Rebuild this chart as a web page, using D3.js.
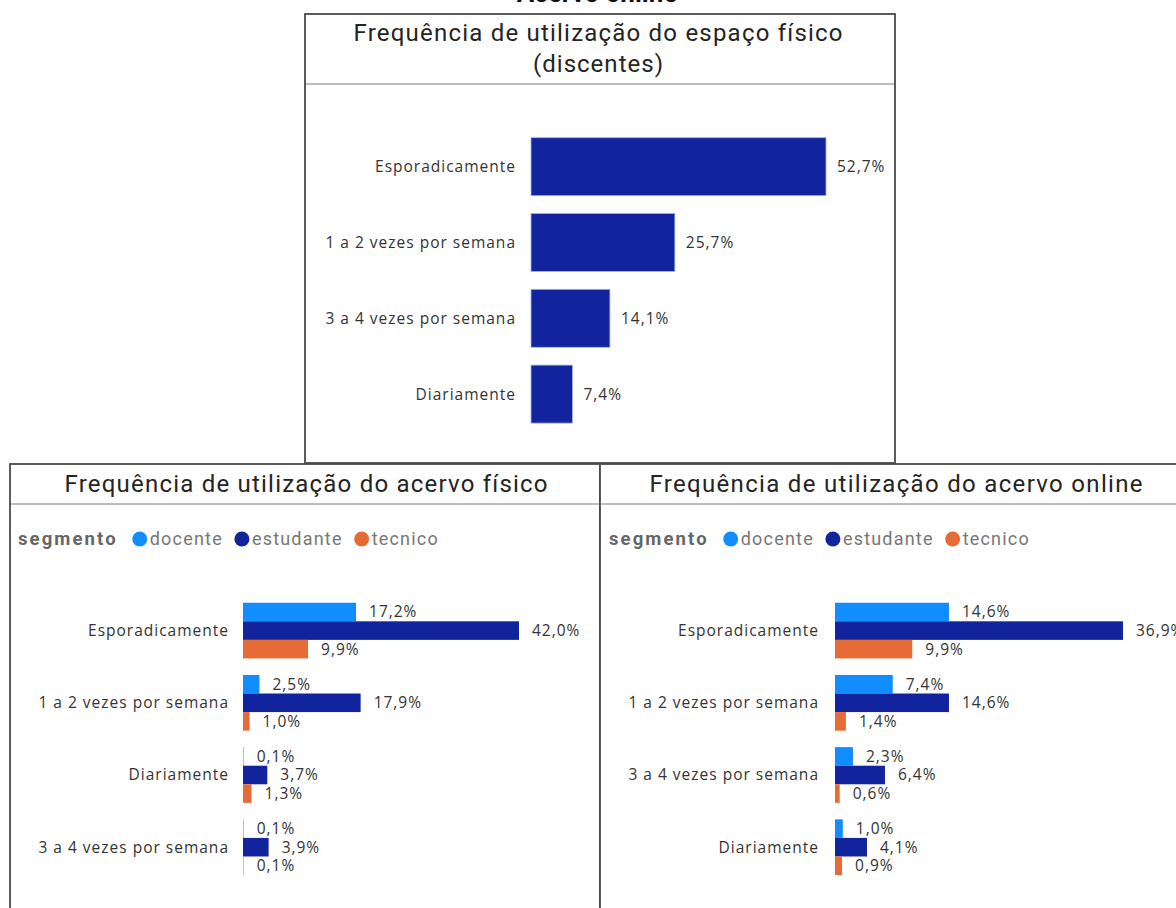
<!DOCTYPE html>
<html>
<head>
<meta charset="utf-8">
<script src="https://cdn.jsdelivr.net/npm/d3@7"></script>
<style>
  html, body { margin: 0; padding: 0; background: #fff; overflow: hidden; }
  svg { display: block; }
</style>
</head>
<body>
<svg id="chart" width="1176" height="908"></svg>
<script>
// ---------------- DATA ----------------
const pageTitle = "Acervo online";

const topTitle = ["Frequência de utilização do espaço físico", "(discentes)"];
const topCategories = ["Esporadicamente", "1 a 2 vezes por semana", "3 a 4 vezes por semana", "Diariamente"];
const topValues = [52.7, 25.7, 14.1, 7.4];

const segments = ["docente", "estudante", "tecnico"];
const segmentColors = ["#118DFF", "#12239E", "#E66C37"];

const fisicoTitle = "Frequência de utilização do acervo físico";
const fisicoCategories = ["Esporadicamente", "1 a 2 vezes por semana", "Diariamente", "3 a 4 vezes por semana"];
const fisicoDocente = [17.2, 2.5, 0.1, 0.1];
const fisicoEstudante = [42.0, 17.9, 3.7, 3.9];
const fisicoTecnico = [9.9, 1.0, 1.3, 0.1];

const onlineTitle = "Frequência de utilização do acervo online";
const onlineCategories = ["Esporadicamente", "1 a 2 vezes por semana", "3 a 4 vezes por semana", "Diariamente"];
const onlineDocente = [14.6, 7.4, 2.3, 1.0];
const onlineEstudante = [36.9, 14.6, 6.4, 4.1];
const onlineTecnico = [9.9, 1.4, 0.6, 0.9];

// ---------------- HELPERS ----------------
const svg = d3.select("#chart");
const fmt = v => d3.format(".1f")(v).replace(".", ",") + "%";
const LABEL_FONT = "'Open Sans', 'Noto Sans', sans-serif";
const TITLE_FONT = "'Roboto', 'DejaVu Sans', sans-serif";
const LABEL_SIZE = 15.5;
const LABEL_SPACING = 1;

function panel(x0, y0, x1, y1, sepY) {
  const g = svg.append("g");
  g.append("rect").attr("x", x0).attr("y", y0).attr("width", x1 - x0).attr("height", y1 - y0)
    .attr("fill", "#fff").attr("stroke", "#4a4a4a").attr("stroke-width", 1.8);
  g.append("line").attr("x1", x0 + 1).attr("x2", x1 - 1).attr("y1", sepY).attr("y2", sepY)
    .attr("stroke", "#bdbdbd").attr("stroke-width", 2);
  return g;
}

function title(g, lines, cx, firstBaseline, lineH, widths) {
  lines.forEach((t, i) => {
    g.append("text").attr("x", cx).attr("y", firstBaseline + i * lineH)
      .attr("text-anchor", "middle").attr("font-family", TITLE_FONT)
      .attr("font-size", 24).attr("fill", "#252423")
      .attr("textLength", widths[i]).attr("lengthAdjust", "spacing").text(t);
  });
}

function styleLabel(sel) {
  return sel.attr("font-family", LABEL_FONT).attr("font-size", LABEL_SIZE)
    .attr("letter-spacing", LABEL_SPACING).attr("fill", "#333");
}

function catAxis(g, y, xPos) {
  const ax = g.append("g").attr("transform", `translate(${xPos},0)`)
    .call(d3.axisLeft(y).tickSize(0).tickPadding(0));
  ax.select(".domain").remove();
  styleLabel(ax.selectAll("text")).attr("dy", "0.35em");
}

function legend(g, x, y) {
  const lg = g.append("g").attr("transform", `translate(${x},${y})`);
  const t = lg.append("text").attr("x", 0).attr("y", 0).attr("dy", "0.35em")
    .attr("font-family", TITLE_FONT).attr("font-weight", "bold").attr("font-size", 18.5)
    .attr("letter-spacing", 2.1).attr("fill", "#666").text("segmento");
  let cx = t.node().getComputedTextLength() + 22;
  segments.forEach((s, i) => {
    lg.append("circle").attr("cx", cx).attr("cy", 0).attr("r", 7.5).attr("fill", segmentColors[i]);
    const tt = lg.append("text").attr("x", cx + 10).attr("y", 0).attr("dy", "0.35em")
      .attr("font-family", TITLE_FONT).attr("font-size", 18).attr("letter-spacing", 1.2)
      .attr("fill", "#777").text(s);
    cx += 10 + tt.node().getComputedTextLength() + 19;
  });
}

// ---------------- PAGE TITLE (cut off at the top edge, as in the source) ----------------
svg.append("text").attr("x", 597).attr("y", 1.5).attr("text-anchor", "middle")
  .attr("font-family", TITLE_FONT).attr("font-weight", "bold").attr("font-size", 26)
  .attr("fill", "#111").text(pageTitle);

// ---------------- TOP PANEL ----------------
{
  const g = panel(305, 14, 895, 463, 84);
  title(g, topTitle, 598, 41, 31, [489, 130]);
  const y = d3.scaleBand().domain(topCategories).range([128.8, 432]).paddingInner(0.235).paddingOuter(0.1175);
  const x = d3.scaleLinear().domain([0, d3.max(topValues)]).range([531, 826]);
  g.selectAll("rect.bar").data(topValues).join("rect").attr("class", "bar")
    .attr("x", x(0)).attr("y", (d, i) => y(topCategories[i]))
    .attr("width", d => x(d) - x(0)).attr("height", y.bandwidth())
    .attr("fill", "#12239E").attr("stroke", "#aab2e8").attr("stroke-width", 0.8);
  styleLabel(g.selectAll("text.val").data(topValues).join("text").attr("class", "val")
    .attr("x", d => x(d) + 11).attr("y", (d, i) => y(topCategories[i]) + y.bandwidth() / 2)
    .attr("dy", "0.35em")).text(d => fmt(d));
  catAxis(g, y, 516);
}

// ---------------- GROUPED PANELS ----------------
function grouped(x0, x1, ttl, titleW, cats, series, xRange, labelX, legendX) {
  const g = panel(x0, 464, x1, 930, 504);
  title(g, [ttl], x0 + 296, 492, 0, [titleW]);
  legend(g, legendX, 539);
  const y = d3.scaleBand().domain(cats).range([594.5, 883.3]).paddingInner(0.2285).paddingOuter(0.11425);
  const ys = d3.scaleBand().domain(segments).range([0, y.bandwidth()]);
  const x = d3.scaleLinear().domain([0, d3.max(series.flat())]).range(xRange);
  segments.forEach((s, si) => {
    const vals = series[si];
    g.selectAll(`rect.b${si}`).data(vals).join("rect").attr("class", `b${si}`)
      .attr("x", x(0)).attr("y", (d, i) => y(cats[i]) + ys(s))
      .attr("width", d => Math.max(0.8, x(d) - x(0))).attr("height", ys.bandwidth())
      .attr("fill", segmentColors[si]).attr("fill-opacity", d => d < 0.5 ? 0.6 : 1);
    styleLabel(g.selectAll(`text.v${si}`).data(vals).join("text").attr("class", `v${si}`)
      .attr("x", d => x(d) + 13).attr("y", (d, i) => y(cats[i]) + ys(s) + ys.bandwidth() / 2)
      .attr("dy", "0.35em")).text(d => fmt(d));
  });
  catAxis(g, y, labelX);
}

grouped(10, 600, fisicoTitle, 483, fisicoCategories,
  [fisicoDocente, fisicoEstudante, fisicoTecnico], [243, 519], 229, 18);
grouped(600, 1190, onlineTitle, 493, onlineCategories,
  [onlineDocente, onlineEstudante, onlineTecnico], [835, 1123], 819, 609);
</script>
</body>
</html>
